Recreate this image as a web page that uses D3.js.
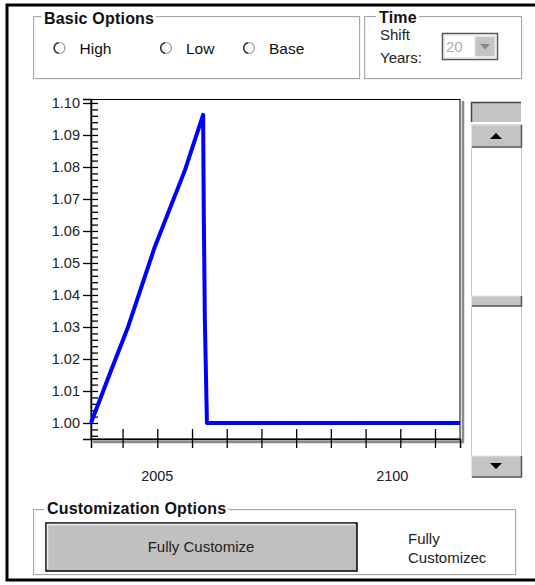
<!DOCTYPE html>
<meta charset="utf-8">
<script src="https://d3js.org/d3.v7.min.js"></script>
<style>
  body { margin: 0; background: #fff; overflow: hidden; }
  svg { display: block; }
  text { font-family: "Liberation Sans", Arial, sans-serif; }
</style>
<div id="my_dataviz"></div>
<script>

// data (x in tick steps, y as index value)
var lineX = [0.09, 0.64, 1.16, 1.93, 2.80, 3.32, 3.34, 3.37, 3.43, 10.72];
var lineY = [1.000, 1.0156, 1.0301, 1.0551, 1.0791, 1.0963, 1.0644, 1.0322, 1.000, 1.000];
var yTicks = [1.00, 1.01, 1.02, 1.03, 1.04, 1.05, 1.06, 1.07, 1.08, 1.09, 1.10];
var yMinor = d3.range(0, 53).map(function(i) { return 0.996 + i * 0.002 });
var xTicks = [1, 2, 3, 4, 5, 6, 7, 8, 9, 10];
var xLabelPos = [2, 8.77];
var xLabelText = ["2005", "2100"];
var radioLabels = ["High", "Low", "Base"];

var W = 535, H = 585;
var svg = d3.select("#my_dataviz")
  .append("svg")
    .attr("width", W)
    .attr("height", H);

// outer frame (right edge runs off the picture)
svg.append("rect")
  .attr("x", 7).attr("y", 5).attr("width", 700).attr("height", 575)
  .attr("fill", "#fff").attr("stroke", "#000").attr("stroke-width", 3);

// group box helper
function groupBox(x, y, w, h, title, tx, ty) {
  svg.append("rect").attr("x", x + 1).attr("y", y + 1).attr("width", w).attr("height", h)
    .attr("fill", "none").attr("stroke", "#f2f2f2");
  svg.append("rect").attr("x", x).attr("y", y).attr("width", w).attr("height", h)
    .attr("fill", "none").attr("stroke", "#a8a8a8");
  var t = svg.append("text").attr("x", tx).attr("y", ty)
    .style("font-size", "16px").style("font-weight", "bold")
    .style("letter-spacing", "0.2px").attr("fill", "#111").text(title);
  var bb = t.node().getBBox();
  svg.insert("rect", "text:last-of-type")
    .attr("x", bb.x - 3).attr("y", y - 2).attr("width", bb.width + 5).attr("height", 5)
    .attr("fill", "#fff");
}

groupBox(33.5, 16.5, 326, 62, "Basic Options", 44, 24);
groupBox(364.5, 16.5, 157, 62, "Time", 379, 23);
groupBox(33.5, 509.5, 482, 65, "Customization Options", 47, 514);

// radio buttons
var radioX = [59.5, 166, 249];
radioLabels.forEach(function(l, i) {
  svg.append("circle").attr("cx", radioX[i]).attr("cy", 48).attr("r", 5.5)
    .attr("fill", "#fff").attr("stroke", "#9a9a9a").attr("stroke-width", 1.2);
  svg.append("path")
    .attr("d", d3.arc().innerRadius(4.5).outerRadius(6)
      .startAngle(-Math.PI * 0.95).endAngle(-Math.PI * 0.05)())
    .attr("transform", "translate(" + radioX[i] + ",48)")
    .attr("fill", "#333");
  svg.append("text").attr("x", radioX[i] + 20).attr("y", 53.5)
    .style("font-size", "15.5px").attr("fill", "#111").text(l);
});

// time selector
svg.append("text").attr("x", 380).attr("y", 40).style("font-size", "15px").attr("fill", "#222").text("Shift");
svg.append("text").attr("x", 380).attr("y", 63).style("font-size", "15px").attr("fill", "#222").text("Years:");
svg.append("rect").attr("x", 442.5).attr("y", 33.5).attr("width", 55).attr("height", 26)
  .attr("fill", "#fff").attr("stroke", "#555").attr("stroke-width", 1.5);
svg.append("rect").attr("x", 444).attr("y", 35).attr("width", 52).attr("height", 23)
  .attr("fill", "#fff").attr("stroke", "#d8d8d8");
svg.append("text").attr("x", 446).attr("y", 52).style("font-size", "15px").attr("fill", "#b0b0b0").text("20");
svg.append("rect").attr("x", 475).attr("y", 36.5).attr("width", 20).attr("height", 20)
  .attr("fill", "#c4c4c4").attr("stroke", "#e8e8e8");
svg.append("path").attr("d", "M480,44 L490,44 L485,49.5 Z").attr("fill", "#888");

// chart
var x = d3.scaleLinear().domain([0.09, 10.72]).range([91, 460]);
var y = d3.scaleLinear().domain([0.995, 1.10125]).range([439, 99]);

// plot frame with shadow
svg.append("path").attr("d", "M463,101 V442 H93")
  .attr("fill", "none").attr("stroke", "#8a8a8a").attr("stroke-width", 2.5);
svg.append("rect").attr("x", 91).attr("y", 99.5).attr("width", 369).attr("height", 339.5)
  .attr("fill", "#fff").attr("stroke", "#000").attr("stroke-width", 1);

// y axis: labels and left half of major ticks
var yAxisL = svg.append("g").attr("transform", "translate(91,0)")
  .call(d3.axisLeft(y).tickValues(yTicks).tickSize(8).tickPadding(3).tickFormat(d3.format(".2f")));
// right side ticks (minor + major)
var yAxisR = svg.append("g").attr("transform", "translate(91,0)")
  .call(d3.axisRight(y).tickValues(yMinor).tickSize(7).tickFormat(""));
yAxisR.select(".domain").remove();

// x axis ticks crossing the line
var xAxisB = svg.append("g").attr("transform", "translate(0,439)")
  .call(d3.axisBottom(x).tickValues(xTicks).tickSize(9).tickFormat(""));
var xAxisT = svg.append("g").attr("transform", "translate(0,439)")
  .call(d3.axisTop(x).tickValues(xTicks).tickSize(10).tickFormat(""));
xAxisT.select(".domain").remove();

svg.selectAll(".tick line").attr("stroke", "#000").attr("stroke-width", 1.3);
svg.selectAll(".domain").attr("stroke", "#000").attr("stroke-width", 1.5);
yAxisL.selectAll("text").style("font-size", "14.5px").attr("fill", "#222")
  .style("font-family", "Liberation Sans, Arial, sans-serif");

// x labels
svg.selectAll(".xlab").data(xLabelPos).enter().append("text")
  .attr("class", "xlab")
  .attr("x", function(d) { return x(d) })
  .attr("y", 481)
  .attr("text-anchor", "middle")
  .style("font-size", "14.5px").attr("fill", "#222")
  .text(function(d, i) { return xLabelText[i] });

// the line
svg.append("path")
  .datum(lineX.map(function(d, i) { return [d, lineY[i]] }))
  .attr("fill", "none")
  .attr("stroke", "#0000ff")
  .attr("stroke-width", 4)
  .attr("stroke-linejoin", "round")
  .attr("d", d3.line()
    .x(function(d) { return x(d[0]) })
    .y(function(d) { return y(d[1]) }));

// scrollbar
var sbX = 471, sbW = 50;
svg.append("rect").attr("x", sbX).attr("y", 102).attr("width", sbW).attr("height", 20)
  .attr("fill", "#c4c4c4");
svg.append("path").attr("d", "M" + (sbX + 0.5) + ",122 V102.5 H" + (sbX + sbW))
  .attr("fill", "none").attr("stroke", "#444").attr("stroke-width", 1.5);
svg.append("rect").attr("x", sbX + 0.5).attr("y", 124.5).attr("width", sbW).attr("height", 353)
  .attr("fill", "#fff").attr("stroke", "#c8c8c8");
function sbButton(y0, h) {
  svg.append("rect").attr("x", sbX + 0.5).attr("y", y0).attr("width", sbW).attr("height", h)
    .attr("fill", "#c4c4c4").attr("stroke", "#e6e6e6");
  svg.append("path").attr("d", "M" + (sbX + 1) + "," + (y0 + h) + " H" + (sbX + sbW + 0.5) + " V" + y0)
    .attr("fill", "none").attr("stroke", "#555").attr("stroke-width", 1.5);
}
sbButton(125, 22);
sbButton(296, 10);
sbButton(456, 21);
svg.append("path").attr("d", "M490,139 L502,139 L496,133 Z").attr("fill", "#000");
svg.append("path").attr("d", "M490,463 L502,463 L496,469 Z").attr("fill", "#000");

// customize button
svg.append("rect").attr("x", 46).attr("y", 523).attr("width", 311).attr("height", 48)
  .attr("fill", "#c0c0c0").attr("stroke", "#000").attr("stroke-width", 1.5);
svg.append("path").attr("d", "M47.5,569 V524.5 H355")
  .attr("fill", "none").attr("stroke", "#f0f0f0").attr("stroke-width", 1.5);
svg.append("text").attr("x", 201).attr("y", 552).attr("text-anchor", "middle")
  .style("font-size", "15px").attr("fill", "#222").text("Fully Customize");
svg.append("text").attr("x", 408).attr("y", 544).style("font-size", "15px").attr("fill", "#222").text("Fully");
svg.append("text").attr("x", 408).attr("y", 563).style("font-size", "15px").attr("fill", "#222").text("Customizec");

</script>
